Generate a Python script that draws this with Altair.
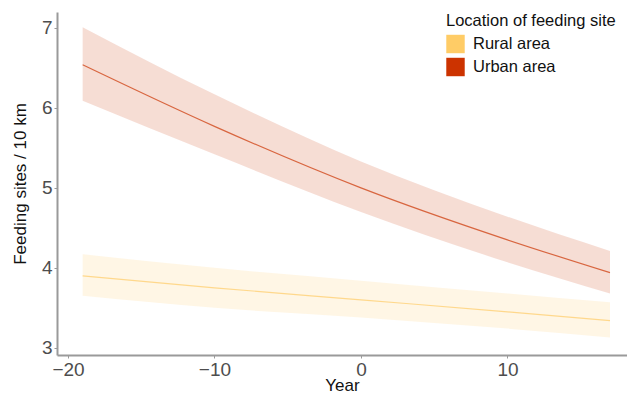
import altair as alt
import pandas as pd

years = [-19, -10, 0, 10, 17]
rural_fit = [3.90, 3.75, 3.60, 3.45, 3.34]
rural_lo = [3.65, 3.50, 3.38, 3.24, 3.13]
rural_hi = [4.17, 4.00, 3.84, 3.68, 3.57]
urban_fit = [6.54, 5.77, 5.00, 4.35, 3.94]
urban_lo = [6.09, 5.42, 4.70, 4.07, 3.68]
urban_hi = [7.01, 6.17, 5.33, 4.64, 4.21]

locations = ["Rural area", "Urban area"]
colors = ["#FFCC66", "#CC3300"]

rows = []
for loc, fit, lo, hi in [
    ("Rural area", rural_fit, rural_lo, rural_hi),
    ("Urban area", urban_fit, urban_lo, urban_hi),
]:
    for yr, f, l, h in zip(years, fit, lo, hi):
        rows.append({"Year": yr, "fit": f, "lo": l, "hi": h, "loc": loc})
df = pd.DataFrame(rows)

AXF = "Liberation Sans"

x = alt.X("Year:Q", title="Year",
          scale=alt.Scale(domain=[-20.75, 18.16], nice=False, zero=False),
          axis=alt.Axis(values=[-20, -10, 0, 10], format="d", grid=False, titlePadding=-2))
color = alt.Color("loc:N", scale=alt.Scale(domain=locations, range=colors),
                  legend=alt.Legend(title="Location of feeding site", orient="none",
                                    legendX=389, legendY=1, symbolType="square",
                                    symbolSize=340, symbolOpacity=1, symbolStrokeWidth=0,
                                    titleFont=AXF, labelFont=AXF, titleFontSize=16.5,
                                    labelFontSize=16.5, titleFontWeight="normal",
                                    titleColor="#111111", labelColor="#111111",
                                    rowPadding=4, titlePadding=5, labelOffset=8))

band = alt.Chart(df).mark_area(opacity=0.17, interpolate="monotone").encode(
    x=x,
    y=alt.Y("lo:Q", title="Feeding sites / 10 km",
            scale=alt.Scale(domain=[2.91, 7.2], nice=False, zero=False),
            axis=alt.Axis(values=[3, 4, 5, 6, 7], format="d", grid=False, titlePadding=12)),
    y2="hi:Q",
    color=color,
)
line = alt.Chart(df).mark_line(strokeWidth=1.2, opacity=0.7, interpolate="monotone").encode(
    x=x,
    y=alt.Y("fit:Q"),
    color=alt.Color("loc:N", scale=alt.Scale(domain=locations, range=colors), legend=None),
)

chart = alt.layer(band, line).properties(
    width=570, height=343,
    autosize=alt.AutoSizeParams(type="none"),
    padding={"left": 49, "top": 4, "right": 0, "bottom": 44},
).configure_view(stroke=None).configure_axis(
    domainColor="#9a9a9a", domainWidth=2, tickColor="#9a9a9a", tickSize=3,
    labelFont=AXF, labelFontSize=19, labelColor="#4d4d4d", labelPadding=2,
    titleFont=AXF, titleFontSize=17, titleFontWeight="normal", titleColor="#111111",
)

chart.save("out.html", embed_options={"renderer": "svg", "actions": False})
